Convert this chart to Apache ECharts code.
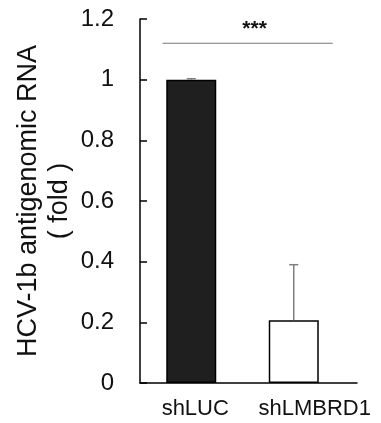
<!DOCTYPE html>
<html>
<head>
<meta charset="utf-8">
<script src="https://cdn.jsdelivr.net/npm/echarts@6/dist/echarts.min.js"></script>
<style>
  html, body { margin: 0; padding: 0; background: #fff; }
  #chart { width: 381px; height: 423px; }
</style>
</head>
<body>
<div id="chart"></div>
<script>
// data
const categories = ['shLUC', 'shLMBRD1'];
const foldValues = [1.0, 0.207];
const foldErrors = [0.003, 0.183];
const barColors = ['#1f1f1f', '#ffffff'];
const yTicks = { min: 0, max: 1.2, step: 0.2 };
const sigLabel = '***';

const FONT = 'Liberation Sans, Arial, sans-serif';
const chart = echarts.init(document.getElementById('chart'));

const option = {
  animation: false,
  backgroundColor: '#fff',
  grid: [
    // bars
    { left: 140, right: 36, top: 19, bottom: 40, containLabel: false, outerBoundsMode: 'none' },
    // axis line + category labels (line runs a bit longer than the bars)
    { left: 140, right: 24, top: 19, bottom: 40, containLabel: false, outerBoundsMode: 'none' }
  ],
  xAxis: [
    {
      type: 'category', gridIndex: 0, data: categories,
      axisLine: { show: false }, axisTick: { show: false }, axisLabel: { show: false }
    },
    {
      type: 'category', gridIndex: 1,
      data: [
        { value: categories[0], textStyle: { padding: [0, 0, 0, 2] } },
        { value: categories[1], textStyle: { padding: [0, 0, 0, 24] } }
      ],
      axisLine: { lineStyle: { color: '#000', width: 1.5 } },
      axisTick: { show: false },
      axisLabel: { color: '#111', fontFamily: FONT, fontSize: 22, margin: 15,
                   interval: 0, hideOverlap: false }
    }
  ],
  yAxis: [
    {
      type: 'value', gridIndex: 0,
      min: yTicks.min, max: yTicks.max, interval: yTicks.step,
      name: 'HCV-1b antigenomic RNA\n( fold )',
      nameLocation: 'middle', nameRotate: 90, nameGap: 65, nameMoveOverlap: false,
      nameTextStyle: { color: '#111', fontFamily: FONT, fontSize: 27, lineHeight: 31 },
      splitLine: { show: false },
      axisLine: { show: true, lineStyle: { color: '#000', width: 1.5 } },
      axisTick: { show: true, inside: true, length: 7, lineStyle: { color: '#000', width: 1.5 } },
      axisLabel: { color: '#111', fontFamily: FONT, fontSize: 24, margin: 26 }
    },
    {
      type: 'value', gridIndex: 1, min: yTicks.min, max: yTicks.max,
      axisLine: { show: false }, axisTick: { show: false }, axisLabel: { show: false },
      splitLine: { show: false }
    }
  ],
  series: [
    {
      type: 'bar', xAxisIndex: 0, yAxisIndex: 0,
      barWidth: 50,
      data: foldValues.map((v, i) => ({
        value: v,
        itemStyle: { color: barColors[i], borderColor: '#000', borderWidth: 1.5 }
      })),
      z: 2
    },
    {
      // error bars (upper whisker only)
      type: 'custom', xAxisIndex: 0, yAxisIndex: 0, z: 3,
      data: foldValues.map((v, i) => [i, v, v + foldErrors[i]]),
      renderItem: function (params, api) {
        const base = api.coord([api.value(0), api.value(1)]);
        const top = api.coord([api.value(0), api.value(2)]);
        const half = 4.5;
        const style = { stroke: '#7f7f7f', lineWidth: 1.5 };
        return {
          type: 'group',
          children: [
            { type: 'line', shape: { x1: base[0], y1: base[1], x2: top[0], y2: top[1] }, style: style },
            { type: 'line', shape: { x1: top[0] - half, y1: top[1], x2: top[0] + half, y2: top[1] }, style: style }
          ]
        };
      }
    },
    {
      // significance line + stars
      type: 'custom', xAxisIndex: 0, yAxisIndex: 0, z: 3,
      data: [[0, 1, 1.12, 1.165]],
      renderItem: function (params, api) {
        const band = api.size([1, 0])[0];
        const a = api.coord([api.value(0), api.value(2)]);
        const b = api.coord([api.value(1), api.value(2)]);
        const t = api.coord([api.value(0), api.value(3)]);
        const x1 = a[0] - 0.28 * band;
        const x2 = b[0] + 0.38 * band;
        return {
          type: 'group',
          children: [
            { type: 'line', shape: { x1: x1, y1: a[1], x2: x2, y2: a[1] },
              style: { stroke: '#777', lineWidth: 1.2 } },
            { type: 'text', x: (x1 + x2) / 2 + 7, y: t[1],
              style: { text: sigLabel, fill: '#111', font: 'bold 21px ' + FONT,
                       align: 'center', verticalAlign: 'middle' } }
          ]
        };
      }
    }
  ]
};

chart.setOption(option);
window.addEventListener('resize', () => chart.resize());
</script>
</body>
</html>
